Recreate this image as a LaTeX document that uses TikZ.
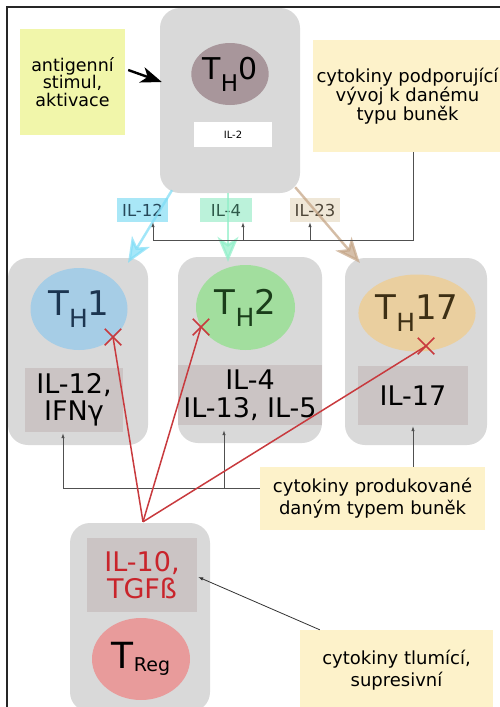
\documentclass[tikz,border=0pt]{standalone}
\usepackage{fontspec}
\setmainfont{DejaVu Sans}
\usetikzlibrary{arrows.meta,calc,shapes.geometric,shapes.misc}

\definecolor{cellgray}{HTML}{D9D9D9}
\definecolor{bandgray}{HTML}{CBC4C4}
\definecolor{thzero}{HTML}{A8969B}
\definecolor{thone}{HTML}{A6CDE6}
\definecolor{thtwo}{HTML}{A2DE9E}
\definecolor{thseventeen}{HTML}{EACF9F}
\definecolor{tregfill}{HTML}{E89B9B}
\definecolor{limenote}{HTML}{F1F6AA}
\definecolor{creamnote}{HTML}{FDF2CA}
\definecolor{cyanarr}{HTML}{7FDDF6}
\definecolor{mintarr}{HTML}{8FEFC8}
\definecolor{tanarr}{HTML}{C4A485}
\definecolor{cyanlab}{HTML}{A9E7F7}
\definecolor{mintlab}{HTML}{BBF2DA}
\definecolor{beigelab}{HTML}{EFE7D7}
\definecolor{supred}{HTML}{C83A3E}
\definecolor{textred}{HTML}{C9242B}
\definecolor{wiregray}{HTML}{505050}
\definecolor{thonetext}{HTML}{1C3550}
\definecolor{thtwotext}{HTML}{1A3D1A}
\definecolor{thsevtext}{HTML}{3D2F14}
\definecolor{labonetext}{HTML}{26485A}
\definecolor{labfourtext}{HTML}{2F5A4A}
\definecolor{labtwthtext}{HTML}{4E4638}

\newcommand{\fsz}[2]{\fontsize{#1}{#2}\selectfont}
% cell name: big T, lowered subscript, suffix
\newcommand{\thname}[5]{{\fsz{#1}{#1}T\raisebox{-#3pt}{\fsz{#2}{#2}#4}#5}}

\begin{document}
\begin{tikzpicture}[x=1pt,y=-1pt,
  cell/.style={fill=cellgray, rounded corners=20pt, inner sep=0pt},
  band/.style={fill=bandgray, inner sep=0pt, align=center, font=\fsz{27}{27.5}},
  blob/.style={ellipse, inner sep=0pt},
  note/.style={align=center, inner sep=0pt},
  lab/.style={inner sep=0pt, minimum height=24, font=\fsz{16.5}{16.5}},
  wire/.style={draw=wiregray, line width=0.8pt},
  wirearrow/.style={wire, -{Latex[length=5pt,width=3.5pt]}},
  colarrow/.style={line width=2.5pt, opacity=0.7,
    -{Stealth[length=25pt,width=21pt,inset=7pt]}},
  redline/.style={draw=supred, line width=1.5pt},
  xmark/.style={cross out, draw=supred, line width=1.5pt, minimum size=15, inner sep=0pt}
]
\useasboundingbox (0,0) rectangle (499,707);

% --- T_H0 cell and the stimulus note
\node[cell, minimum width=140, minimum height=185] (th0cell) at (230,100.5) {};
\node[blob, fill=thzero, minimum width=76, minimum height=62] (th0) at (230,74)
  {\thname{30}{23}{12}{H}{0}};
\node[fill=white, inner sep=0pt, minimum width=78, minimum height=25, font=\fsz{10}{10}] (il2) at (233,134.5) {IL-2};
\node[note, fill=limenote, minimum width=105, minimum height=106, font=\fsz{17.5}{17.5}] (antigen) at (72.5,82)
  {antigenní\\stimul,\\aktivace};
\node[note, fill=creamnote, minimum width=189, minimum height=112, font=\fsz{18}{17.5}] (support) at (407.5,96)
  {cytokiny podporující\\vývoj k danému\\typu buněk};

% --- polarising cytokines
\node[lab, fill=cyanlab, text=labonetext, minimum width=51] (l12) at (142.5,210) {IL-12};
\node[lab, fill=mintlab, text=labfourtext, minimum width=52] (l4) at (226,210) {IL-4};
\node[lab, fill=beigelab, text=labtwthtext, minimum width=50] (l23) at (315,210) {IL-23};

% --- effector cells
\node[cell, minimum width=140, minimum height=187] (th1cell) at (78,351.5) {};
\node[blob, fill=thone, text=thonetext, minimum width=97, minimum height=82] (th1) at (79,309)
  {\thname{34}{25}{12}{H}{1}};
\node[band, minimum width=98, minimum height=64] (th1band) at (74,400) {IL-12,\\IFNγ};

\node[cell, minimum width=144, minimum height=186] (th2cell) at (250,350) {};
\node[blob, fill=thtwo, text=thtwotext, minimum width=99, minimum height=85] (th2) at (245.5,307.5)
  {\thname{34}{25}{12}{H}{2}};
\node[band, minimum width=144, minimum height=60] (th2band) at (250,395) {IL-4\\IL-13, IL-5};

\node[cell, minimum width=142, minimum height=187] (th17cell) at (416,351.5) {};
\node[blob, fill=thseventeen, text=thsevtext, minimum width=104, minimum height=77] (th17) at (417,313)
  {\thname{34}{25}{12}{H}{17}};
\node[band, minimum width=110, minimum height=59] (th17band) at (413,395.5) {IL-17};

\node[note, fill=creamnote, minimum width=225, minimum height=63, font=\fsz{18}{22}] (produced) at (372.5,498.5)
  {cytokiny produkované\\daným typem buněk};

% --- regulatory cell
\node[cell, minimum width=140, minimum height=189] (tregcell) at (140,617.5) {};
\node[band, text=textred, minimum width=110, minimum height=74] (tregband) at (142,575) {IL-10,\\TGFß};
\node[blob, fill=tregfill, minimum width=98, minimum height=82] (treg) at (141,659)
  {{\fsz{36}{36}T\raisebox{-3pt}{\fsz{19}{19}Reg}}};
\node[note, fill=creamnote, minimum width=193, minimum height=80, font=\fsz{18}{22}] (suppress) at (396.5,670)
  {cytokiny tlumící,\\supresivní};

% --- differentiation arrows
\draw[colarrow, draw=cyanarr, fill=cyanarr] ($(th0cell.south)+(-58,-3)$) -- ($(th1cell.north)+(50,5)$);
\draw[colarrow, draw=mintarr, fill=mintarr] ($(th0cell.south)+(-2,0)$) -- ($(th2cell.north)+(-22,5)$);
\draw[colarrow, draw=tanarr, fill=tanarr] ($(th0cell.south east)+(-5,-6)$) -- ($(th17cell.north west)+(15,5)$);

% --- stimulus arrow
\draw[line width=2.4pt, -{Stealth[length=21pt,width=16pt,inset=6pt]}]
  ($(antigen.east)+(3,-12)$) -- ($(th0cell.west)+(2,-18.5)$);

% --- wiring from the note to the polarising cytokines
\coordinate (busR) at (413,240);
\coordinate (busL) at (153,240);
\coordinate (busFour) at (243,240);
\coordinate (busTwentyThree) at (310,240);
\draw[wire] (support.south -| busR) -- (busR) -- (busL);
\draw[wirearrow] (busL) -- (busL |- l12.south);
\draw[wirearrow] (busFour) -- (busFour |- l4.south);
\draw[wirearrow] (busTwentyThree) -- (busTwentyThree |- l23.south);

% --- wiring from the note to the produced cytokines
\coordinate (lowL) at (63,488);
\coordinate (lowTwo) at (224,488);
\coordinate (upSeventeen) at (413,467);
\draw[wire] (produced.west |- lowL) -- (lowL);
\draw[wirearrow] (lowL) -- ($(lowL |- th1band.south)+(0,1)$);
\draw[wirearrow] (lowTwo) -- ($(lowTwo |- th2band.south)+(0,5)$);
\draw[wirearrow] (produced.north -| upSeventeen) -- ($(upSeventeen |- th17band.south)+(0,1)$);

% --- suppression
\coordinate (src) at ($(tregcell.north)+(3,-1)$);
\node[xmark] (xone) at (113,337) {};
\node[xmark] (xtwo) at (201,327) {};
\node[xmark] (xseventeen) at (426,346) {};
\draw[redline] (src) -- (xone.center);
\draw[redline] (src) -- (xtwo.center);
\draw[redline] (src) -- (xseventeen.center);
\draw[wirearrow, draw=black!80] ($(suppress.north west)+(20,0)$) -- ($(tregband.east)+(1,2)$);

% --- frame
\draw[line width=1.6pt, black!85] (7,712) -- (7,7) -- (505,7);
\end{tikzpicture}
\end{document}
